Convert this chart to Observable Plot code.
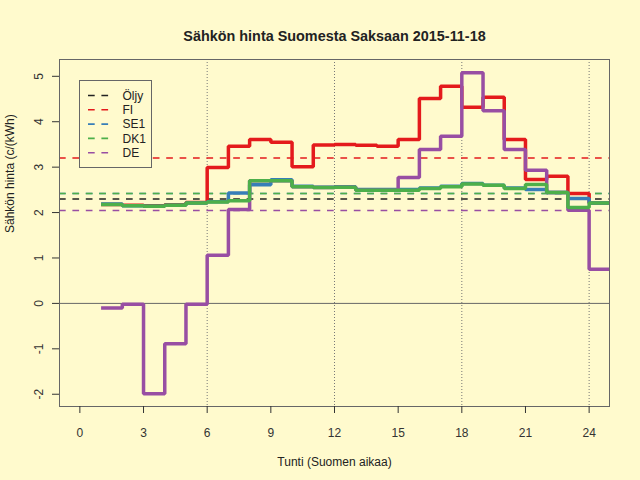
<!DOCTYPE html>
<html>
<head>
<meta charset="utf-8">
<script src="https://cdn.jsdelivr.net/npm/d3@7"></script>
<script src="https://cdn.jsdelivr.net/npm/@observablehq/plot@0.6"></script>
<style>
  html, body { margin: 0; padding: 0; background: #FFFACD; }
  #wrap { position: relative; width: 640px; height: 480px; }
  #legend { position: absolute; left: 79px; top: 80px; }
</style>
</head>
<body>
<div id="wrap"></div>
<script>
// ---- data ----
const hours = [1,2,3,4,5,6,7,8,9,10,11,12,13,14,15,16,17,18,19,20,21,22,23,24];
const FI  = [2.18,2.16,2.15,2.17,2.22,2.99,3.46,3.61,3.55,3.01,3.49,3.50,3.48,3.46,3.61,4.51,4.78,4.32,4.54,3.61,2.73,2.80,2.42,2.21];
const SE1 = [2.19,2.15,2.14,2.16,2.21,2.24,2.43,2.61,2.72,2.58,2.56,2.57,2.51,2.51,2.51,2.54,2.58,2.64,2.60,2.54,2.51,2.44,2.31,2.21];
const DK1 = [2.18,2.15,2.14,2.16,2.21,2.23,2.26,2.70,2.70,2.57,2.55,2.56,2.49,2.49,2.49,2.53,2.57,2.63,2.60,2.53,2.62,2.44,2.11,2.21];
const DE  = [-0.10,-0.02,-1.99,-0.89,-0.02,1.06,2.07,2.70,2.70,2.57,2.55,2.56,2.49,2.49,2.77,3.39,3.68,5.08,4.24,3.39,2.93,2.44,2.05,0.75];

const legendNames = ["Öljy","FI","SE1","DK1","DE"];
const legendColors = ["#222222","#E41A1C","#377EB8","#4DAF4A","#984EA3"];
const meanLevels = [2.30, 3.20, 2.42, 2.42, 2.045];

const xTicks = [0,3,6,9,12,15,18,21,24];
const yTicks = [-2,-1,0,1,2,3,4,5];
const gridHours = [6,12,18,24];

const titleText = "Sähkön hinta Suomesta Saksaan 2015-11-18";
const xLabel = "Tunti (Suomen aikaa)";
const yLabel = "Sähkön hinta (c/(kWh)";

// step table: last hour extends to the end of the day
function stepTable(vals) {
  const t = hours.map((h, i) => ({hour: h, value: vals[i]}));
  t.push({hour: hours[hours.length - 1] + 1, value: vals[vals.length - 1]});
  return t;
}

const meanTable = legendNames.map((n, i) => ({name: n, value: meanLevels[i], color: legendColors[i]}));

const lineOpts = (color) => ({x: "hour", y: "value", curve: "step-after", stroke: color, strokeWidth: 3.5, clip: true, strokeLinejoin: "miter", strokeLinecap: "butt"});

const chart = Plot.plot({
  width: 640,
  height: 480,
  marginLeft: 59,
  marginRight: 31,
  marginTop: 59,
  marginBottom: 74,
  style: {background: "#FFFACD", fontFamily: "'Liberation Sans', Arial, sans-serif", fontSize: "12px", color: "#333"},
  x: {domain: [-0.96, 24.96], axis: null},
  y: {domain: [-2.27, 5.37], axis: null},
  marks: [
    Plot.ruleX(gridHours, {stroke: "#777", strokeDasharray: "1,2", strokeWidth: 1}),
    Plot.ruleY([0], {stroke: "#666", strokeWidth: 1}),
    Plot.ruleY(meanTable, {y: "value", stroke: "color", strokeWidth: 1.6, strokeDasharray: "6.7,6.7"}),
    Plot.line(stepTable(FI), lineOpts(legendColors[1])),
    Plot.line(stepTable(SE1), lineOpts(legendColors[2])),
    Plot.line(stepTable(DE), lineOpts(legendColors[4])),
    Plot.line(stepTable(DK1), lineOpts(legendColors[3])),
    Plot.frame({stroke: "#666"}),
    Plot.axisX({ticks: xTicks, tickSize: 7, tickPadding: 15, label: null, fontSize: 12, tickFormat: d => String(d)}),
    Plot.axisY({ticks: yTicks, tickSize: 7, label: null, tickFormat: () => ""}),
    Plot.text(yTicks, {y: d => d, text: d => String(d), frameAnchor: "left", dx: -20, rotate: -90, textAnchor: "middle", fontSize: 12, fill: "#333"}),
    Plot.text([xLabel], {frameAnchor: "bottom", dy: 59, fontSize: 12, fill: "#222"}),
    Plot.text([yLabel], {frameAnchor: "left", dx: -49, rotate: -90, fontSize: 12, fill: "#222"}),
    Plot.text([titleText], {frameAnchor: "top", dy: -29, fontSize: 14.4, fontWeight: "bold", fill: "#222"})
  ]
});

const wrap = document.getElementById("wrap");
wrap.appendChild(chart);

// legend overlay
const lg = d3.select(wrap).append("svg")
  .attr("id", "legend")
  .attr("width", 74).attr("height", 89)
  .style("font-family", "'Liberation Sans', Arial, sans-serif");
lg.append("rect").attr("x", 0.5).attr("y", 0.5).attr("width", 72).attr("height", 87)
  .attr("fill", "#FFFACD").attr("stroke", "#666");
legendNames.forEach((n, i) => {
  const y = 15.5 + 14.3 * i;
  lg.append("line").attr("x1", 9).attr("x2", 30).attr("y1", y).attr("y2", y)
    .attr("stroke", legendColors[i]).attr("stroke-width", 1.6).attr("stroke-dasharray", "6.7,6.7");
  lg.append("text").attr("x", 43.5).attr("y", y + 4.3).attr("font-size", 12).attr("fill", "#222").text(n);
});
</script>
</body>
</html>
